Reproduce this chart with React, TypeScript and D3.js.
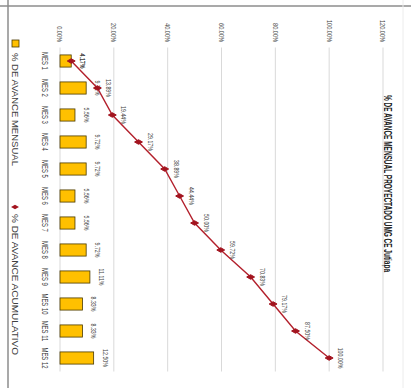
import React from 'react'
import * as d3 from 'd3'

const months = ['MES 1', 'MES 2', 'MES 3', 'MES 4', 'MES 5', 'MES 6', 'MES 7', 'MES 8', 'MES 9', 'MES 10', 'MES 11', 'MES 12']
const monthly = [4.17, 9.72, 5.56, 9.72, 9.72, 5.56, 5.56, 9.72, 11.11, 8.33, 8.33, 12.5]
const cumulative = [4.17, 13.89, 19.44, 29.17, 38.89, 44.44, 50.0, 59.72, 70.83, 79.17, 87.5, 100.0]
const ticks = [0, 20, 40, 60, 80, 100, 120]
const title = '% DE AVANCE MENSUAL PROYECTADO UMG CE Jutiapa'
const legendBar = '% DE AVANCE MENSUAL'
const legendLine = '% DE AVANCE ACUMULATIVO'

const FONT = '"Liberation Sans", Arial, sans-serif'

// chart is drawn upright (388 x 411) and then turned a quarter clockwise
const W = 388
const H = 411

// narrow text: the original used a condensed face, squeeze the glyphs horizontally
const NText = ({ x, y, anchor = 'middle', size = 7.5, dy = '0', weight = 'normal', children }: any) => (
  <text
    transform={`translate(${x},${y}) scale(0.7,1)`}
    dy={dy}
    textAnchor={anchor}
    fontFamily={FONT}
    fontSize={size}
    fontWeight={weight}
    fill="#404040"
  >
    {children}
  </text>
)

const App = () => {
  const x = d3.scaleBand().domain(months).range([47.5, 371.5]).paddingInner(0.55).paddingOuter(0.275)
  const y = d3.scaleLinear().domain([0, 120]).range([351, 28])
  const cx = (m: string) => x(m)! + x.bandwidth() / 2
  const line = d3
    .line<number>()
    .x((d, i) => cx(months[i]))
    .y(d => y(d))
  const diamond = d3.symbol().type(d3.symbolDiamond).size(18)
  const fmt = (v: number) => v.toFixed(2) + '%'

  return (
    <svg width={411} height={388} style={{ position: 'absolute', left: 0, top: 0, background: '#fff' }}>
      <g transform={`translate(${H},0) rotate(90)`}>
        <rect x={0} y={0} width={W} height={H} fill="#fff" />
        <line x1={6} x2={6} y1={0} y2={H} stroke="#8c8c8c" strokeWidth={1.5} />
        <line x1={0} x2={W} y1={403} y2={403} stroke="#8c8c8c" strokeWidth={1.5} />
        <line x1={0} x2={W} y1={8} y2={8} stroke="#ececec" strokeWidth={1} />

        <text
          x={95}
          y={27}
          textLength={177}
          lengthAdjust="spacingAndGlyphs"
          fontFamily={FONT}
          fontWeight="bold"
          fontSize={10}
          fill="#222"
        >
          {title}
        </text>

        {ticks.map(t => (
          <g key={t}>
            <line x1={47.5} x2={371.5} y1={y(t)} y2={y(t)} stroke="#d9d9d9" strokeWidth={1} />
            <NText x={42} y={y(t)} dy="0.32em" anchor="end" size={8}>
              {t.toFixed(2) + '%'}
            </NText>
          </g>
        ))}

        {months.map((m, i) => (
          <g key={m}>
            <rect
              x={x(m)}
              y={y(monthly[i])}
              width={x.bandwidth()}
              height={y(0) - y(monthly[i])}
              fill="#FFC000"
              stroke="#4a3a00"
              strokeWidth={0.8}
            />
            <NText x={cx(m)} y={y(0) + 18} size={8.5}>
              {m}
            </NText>
            <NText x={cx(m)} y={y(monthly[i]) - 9} size={7.5}>
              {fmt(monthly[i])}
            </NText>
          </g>
        ))}

        <path d={line(cumulative)!} fill="none" stroke="#B3202C" strokeWidth={1.4} />
        {cumulative.map((v, i) => (
          <g key={i}>
            <path d={diamond()!} transform={`translate(${cx(months[i])},${y(v)})`} fill="#A3141F" stroke="#A3141F" />
            <NText x={cx(months[i])} y={y(v) - 9} size={7.5}>
              {fmt(v)}
            </NText>
          </g>
        ))}

        <rect x={40} y={392} width={7} height={7} fill="#FFC000" stroke="#4a3a00" strokeWidth={0.8} />
        <text
          x={53}
          y={396}
          dy="0.35em"
          textLength={113}
          lengthAdjust="spacingAndGlyphs"
          fontFamily={FONT}
          fontSize={9.5}
          fill="#404040"
        >
          {legendBar}
        </text>
        <path d={diamond()!} transform="translate(207,396)" fill="#A3141F" />
        <text
          x={214}
          y={396}
          dy="0.35em"
          textLength={141}
          lengthAdjust="spacingAndGlyphs"
          fontFamily={FONT}
          fontSize={9.5}
          fill="#404040"
        >
          {legendLine}
        </text>
      </g>
    </svg>
  )
}

export default App
